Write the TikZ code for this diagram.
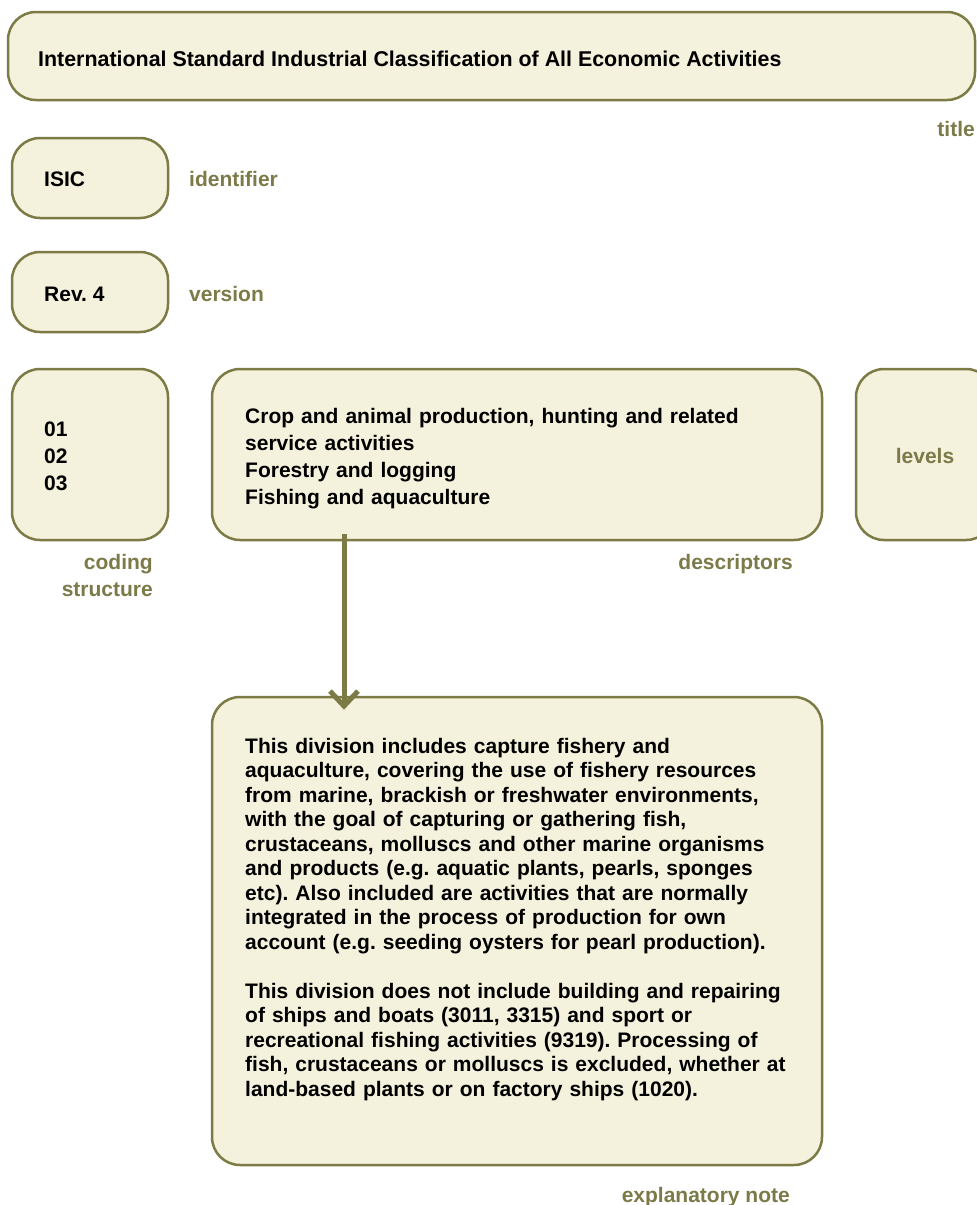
\documentclass[tikz,border=0pt]{standalone}
\usepackage{fontspec}
\setmainfont{Liberation Sans}
\usetikzlibrary{arrows.meta}
\definecolor{isicbord}{HTML}{7D7B45}
\definecolor{isiclab}{HTML}{7B7A48}
\definecolor{isicfill}{HTML}{F4F1DC}
\frenchspacing
\begin{document}
\begin{tikzpicture}[x=1pt,y=-1pt,
  box/.style={draw=isicbord, fill=isicfill, line width=2.5pt, rounded corners=28pt, inner sep=0pt},
  txt/.style={inner sep=0pt, font=\fontsize{21}{27}\selectfont\bfseries, text=black},
  lab/.style={inner sep=0pt, font=\fontsize{21}{27}\selectfont\bfseries, text=isiclab},
  conn/.style={draw=isicbord, line width=5pt, -{Straight Barb[length=15pt,width=28pt]}}]
\clip (0,0) rectangle (977,1205);
\useasboundingbox (0,0) rectangle (977,1205);
% boxes
\node[box, minimum width=967pt, minimum height=88pt] (title) at (491.5,56) {};
\node[box, minimum width=156pt, minimum height=80pt] (isic) at (90,178) {};
\node[box, minimum width=156pt, minimum height=80pt] (rev) at (90,292) {};
\node[box, minimum width=156pt, minimum height=171pt] (code) at (90,454.5) {};
\node[box, minimum width=610pt, minimum height=171pt] (desc) at (517,454.5) {};
\node[box, minimum width=138pt, minimum height=171pt] (levels) at (925,454.5) {};
\node[box, minimum width=610pt, minimum height=468pt] (note) at (517,931) {};
% texts inside boxes
\node[txt, anchor=base west, font=\fontsize{21.4}{27}\selectfont\bfseries] (titletext) at (38,66) {International Standard Industrial Classification of All Economic Activities};
\node[txt, anchor=base west] (isictext) at (44,186) {ISIC};
\node[txt, anchor=base west] (revtext) at (44,301.5) {Rev. 4};
\node[txt, anchor=base west, text width=100pt, align=left] (codetext) at (44,436) {01\\02\\03};
\node[txt, anchor=base west, text width=560pt, align=left] (desctext) at (245,423.3) {Crop and animal production, hunting and related\\service activities\\Forestry and logging\\Fishing and aquaculture};
\node[txt, anchor=base west, text width=570pt, align=left, font=\fontsize{21}{24.5}\selectfont\bfseries] (notetext) at (245,753) {This division includes capture fishery and\\aquaculture, covering the use of fishery resources\\from marine, brackish or freshwater environments,\\with the goal of capturing or gathering fish,\\crustaceans, molluscs and other marine organisms\\and products (e.g. aquatic plants, pearls, sponges\\etc). Also included are activities that are normally\\integrated in the process of production for own\\account (e.g. seeding oysters for pearl production).\\[24.5pt]This division does not include building and repairing\\of ships and boats (3011, 3315) and sport or\\recreational fishing activities (9319). Processing of\\fish, crustaceans or molluscs is excluded, whether at\\land-based plants or on factory ships (1020).};
% labels
\node[lab, anchor=base east] (titlelab) at (975,136) {title};
\node[lab, anchor=base west] (identlab) at (189,186) {identifier};
\node[lab, anchor=base west] (verslab) at (189,301.5) {version};
\node[lab, anchor=base east, text width=150pt, align=right] (codelab) at (153,569) {coding\\structure};
\node[lab, anchor=base east] (desclab) at (793,569) {descriptors};
\node[lab, anchor=base] (levlab) at (925,463) {levels};
\node[lab, anchor=base east] (notelab) at (790,1202) {explanatory note};
% connector
\draw[conn] ([xshift=-173pt,yshift=7pt]desc.south) -- ([xshift=-173pt,yshift=-14pt]note.north);
\end{tikzpicture}
\end{document}
